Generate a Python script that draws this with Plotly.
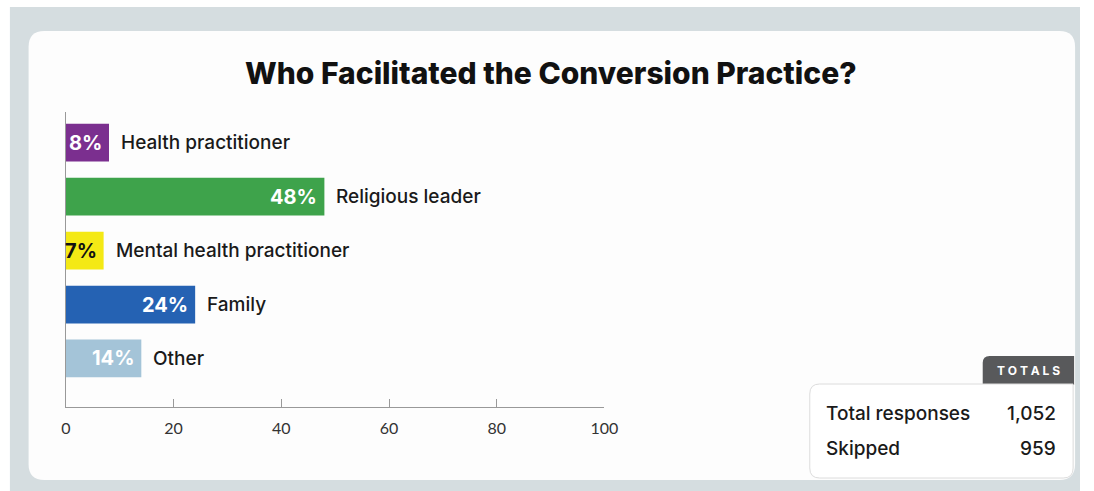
import plotly.graph_objects as go

categories = ["Health practitioner", "Religious leader", "Mental health practitioner", "Family", "Other"]
values = [8, 48, 7, 24, 14]
pct_labels = ["8%", "48%", "7%", "24%", "14%"]
bar_colors = ["#7b2f8f", "#3ea34b", "#f4e915", "#2562b3", "#a4c4d8"]
pct_text_colors = ["white", "white", "#111111", "white", "white"]
tick_vals = [0, 20, 40, 60, 80, 100]
totals_labels = ["Total responses", "Skipped"]
totals_values = ["1,052", "959"]

W, H = 1094, 491
FONT = "Inter, Open Sans, sans-serif"

def px(x):
    return x / W

def py(y):
    return 1 - y / H

def rounded_path(x0, y0, x1, y1, r, corners=(True, True, True, True)):
    tl, tr, br, bl = corners
    rx, ry = r / W, r / H
    X0, X1 = px(x0), px(x1)
    Y0, Y1 = py(y0), py(y1)
    p = [f"M {X0 + (rx if tl else 0)},{Y0}", f"L {X1 - (rx if tr else 0)},{Y0}"]
    if tr:
        p.append(f"Q {X1},{Y0} {X1},{Y0 - ry}")
    p.append(f"L {X1},{Y1 + (ry if br else 0)}")
    if br:
        p.append(f"Q {X1},{Y1} {X1 - rx},{Y1}")
    p.append(f"L {X0 + (rx if bl else 0)},{Y1}")
    if bl:
        p.append(f"Q {X0},{Y1} {X0},{Y1 + ry}")
    p.append(f"L {X0},{Y0 - (ry if tl else 0)}")
    if tl:
        p.append(f"Q {X0},{Y0} {X0 + rx},{Y0}")
    p.append("Z")
    return " ".join(p)

fig = go.Figure()
fig.add_trace(go.Bar(
    x=values, y=categories, orientation="h",
    marker=dict(color=bar_colors, line=dict(width=0)),
    width=0.7, hoverinfo="skip",
))

annotations = []
for cat, v, lab, tc in zip(categories, values, pct_labels, pct_text_colors):
    annotations.append(dict(x=v, y=cat, xref="x", yref="y", text=lab,
                            showarrow=False, xanchor="right", xshift=-5,
                            font=dict(family=FONT, size=20, color=tc, weight=700)))
    annotations.append(dict(x=v, y=cat, xref="x", yref="y", text=cat,
                            showarrow=False, xanchor="left", xshift=10,
                            font=dict(family=FONT, size=19, color="#1a1a1a", weight=500)))

annotations.append(dict(x=px(556), y=py(73), xref="paper", yref="paper",
                        text="Who Facilitated the Conversion Practice?", showarrow=False,
                        xanchor="center", yanchor="middle",
                        font=dict(family=FONT, size=30, color="#111111", weight=800)))

annotations.append(dict(x=px(1042), y=py(370), xref="paper", yref="paper",
                        text="T O T A L S", showarrow=False, xanchor="center", yanchor="middle",
                        font=dict(family=FONT, size=12, color="white", weight=700)))
for i, (lab, val) in enumerate(zip(totals_labels, totals_values)):
    yy = 413 + i * 35
    annotations.append(dict(x=px(833), y=py(yy), xref="paper", yref="paper", text=lab,
                            showarrow=False, xanchor="left", yanchor="middle",
                            font=dict(family=FONT, size=19, color="#1a1a1a", weight=500)))
    annotations.append(dict(x=px(1072), y=py(yy), xref="paper", yref="paper", text=val,
                            showarrow=False, xanchor="right", yanchor="middle",
                            font=dict(family=FONT, size=19, color="#1a1a1a", weight=500)))

shapes = [
    dict(type="rect", xref="paper", yref="paper", x0=px(5), x1=px(1094), y0=py(491), y1=py(7),
         fillcolor="#d5dde0", line=dict(width=0), layer="below"),
    dict(type="path", xref="paper", yref="paper", path=rounded_path(24, 31, 1089, 480, 16),
         fillcolor="#fdfdfd", line=dict(width=0), layer="below"),
    dict(type="path", xref="paper", yref="paper",
         path=rounded_path(995, 356, 1088, 385, 7, corners=(True, False, False, False)),
         fillcolor="#58595b", line=dict(width=0), layer="below"),
    dict(type="path", xref="paper", yref="paper",
         path=rounded_path(819, 384, 1087, 478, 10, corners=(True, False, True, True)),
         fillcolor="#ffffff", line=dict(width=1, color="#dcdcdc"), layer="below"),
]

fig.update_layout(
    width=W, height=H, autosize=False,
    margin=dict(l=0, r=0, t=0, b=0, pad=0),
    paper_bgcolor="white", plot_bgcolor="rgba(0,0,0,0)",
    showlegend=False,
    xaxis=dict(domain=[px(62), px(610)], range=[0, 100], tickvals=tick_vals,
               ticks="inside", ticklen=8, tickcolor="#999999", tickwidth=1,
               showline=True, linecolor="#999999", linewidth=1, showgrid=False, zeroline=False,
               tickfont=dict(family="Lato, sans-serif", size=16, color="#333333"),
               ticklabelstandoff=7, anchor="y", fixedrange=True),
    yaxis=dict(domain=[py(407), py(112)], range=[4.9, -0.57], showticklabels=False,
               showline=True, linecolor="#999999", linewidth=1, showgrid=False, zeroline=False,
               ticks="", fixedrange=True),
    annotations=annotations,
    shapes=shapes,
)

fig.write_html(
    "out.html",
    config={"displayModeBar": False},
    post_script="document.body.style.margin='0';document.body.style.overflow='hidden';",
)
